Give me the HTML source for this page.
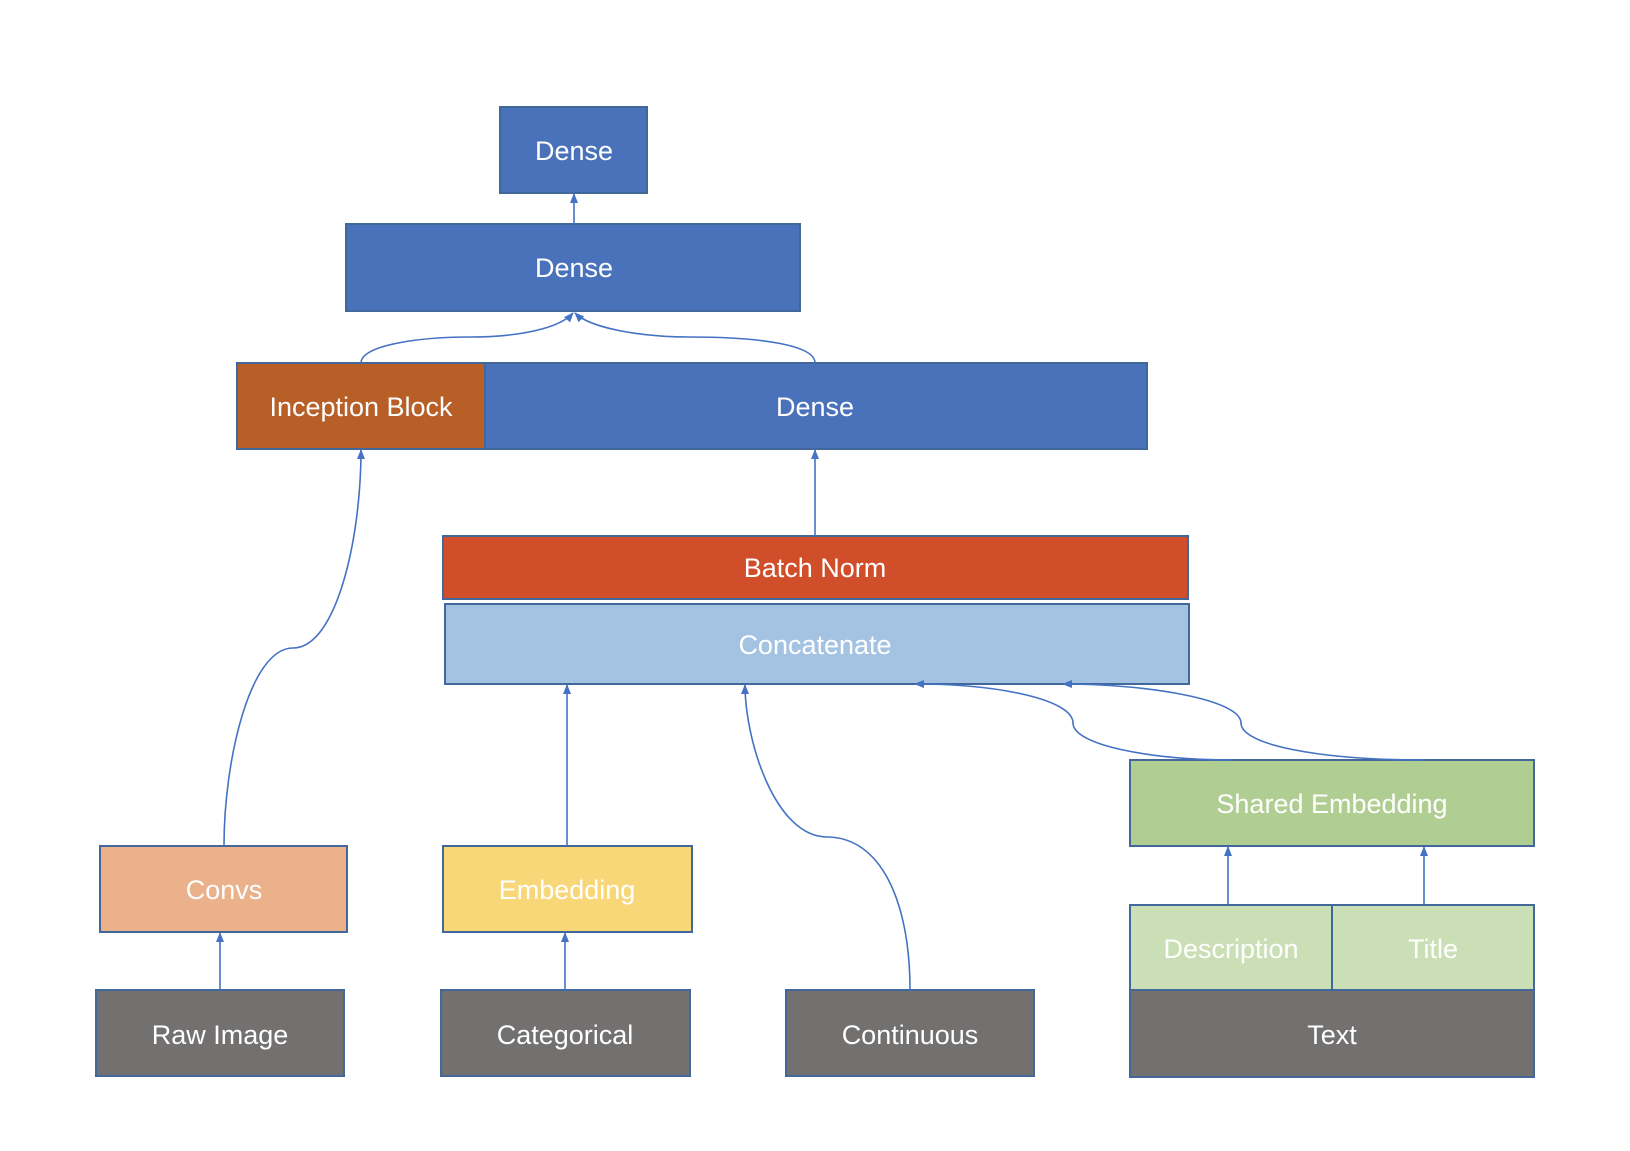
<!DOCTYPE html>
<html><head><style>
body{margin:0;background:#fff;}
svg text{font-family:"Liberation Sans",sans-serif;font-size:27px;fill:#fff;text-anchor:middle;dominant-baseline:central;}
</style></head><body>
<svg width="1630" height="1146" viewBox="0 0 1630 1146" xmlns="http://www.w3.org/2000/svg">
<defs><marker id="a" markerWidth="10" markerHeight="10" refX="9" refY="5" orient="auto" markerUnits="userSpaceOnUse" viewBox="0 0 10 10"><path d="M0,1 L10,5 L0,9 Z" fill="#4472c4"/></marker></defs>
<g stroke="#42679b" stroke-width="2">
<rect x="500" y="107" width="147" height="86" fill="#4a72bb"/>
<rect x="346" y="224" width="454" height="87" fill="#4a72bb"/>
<rect x="485" y="363" width="662" height="86" fill="#4a72bb"/>
<rect x="237" y="363" width="248" height="86" fill="#b85f28"/>
<rect x="443" y="536" width="745" height="63" fill="#d04e2a"/>
<rect x="445" y="604" width="744" height="80" fill="#a4c2e2"/>
<rect x="1130" y="760" width="404" height="86" fill="#b0cd92"/>
<rect x="1130" y="905" width="202" height="85" fill="#cbdfb6"/>
<rect x="1332" y="905" width="202" height="85" fill="#cbdfb6"/>
<rect x="1130" y="990" width="404" height="87" fill="#737070"/>
<rect x="100" y="846" width="247" height="86" fill="#eab18a"/>
<rect x="443" y="846" width="249" height="86" fill="#f8d779"/>
<rect x="96" y="990" width="248" height="86" fill="#737070"/>
<rect x="441" y="990" width="249" height="86" fill="#737070"/>
<rect x="786" y="990" width="248" height="86" fill="#737070"/>
</g>
<g fill="none" stroke="#4472c4" stroke-width="1.6" marker-end="url(#a)">
<path d="M574,224 L574,194"/>
<path d="M361,363 C361,345 420,337 470,337 C520,337 560,328 573,313"/>
<path d="M815,363 C815,345 760,337 690,337 C640,337 590,328 575,313"/>
<path d="M815,536 L815,450"/>
<path d="M224,846 C224,760 250,648 293,648 C336,648 361,540 361,450"/>
<path d="M567,846 L567,685"/>
<path d="M910,990 C910,900 880,837 827,837 C775,837 745,740 745,685"/>
<path d="M1234,760 C1150,760 1073,745 1073,723 C1073,700 1000,684 915,684"/>
<path d="M1425,760 C1320,760 1241,745 1241,723 C1241,700 1150,684 1063,684"/>
<path d="M1228,905 L1228,847"/>
<path d="M1424,905 L1424,847"/>
<path d="M220,990 L220,933"/>
<path d="M565,990 L565,933"/>
</g>
<text x="574" y="151">Dense</text>
<text x="574" y="268">Dense</text>
<text x="361" y="407">Inception Block</text>
<text x="815" y="407">Dense</text>
<text x="815" y="568">Batch Norm</text>
<text x="815" y="645">Concatenate</text>
<text x="1332" y="804">Shared Embedding</text>
<text x="1231" y="949">Description</text>
<text x="1433" y="949">Title</text>
<text x="1332" y="1035">Text</text>
<text x="224" y="890">Convs</text>
<text x="567" y="890">Embedding</text>
<text x="220" y="1035">Raw Image</text>
<text x="565" y="1035">Categorical</text>
<text x="910" y="1035">Continuous</text>
</svg>
</body></html>
